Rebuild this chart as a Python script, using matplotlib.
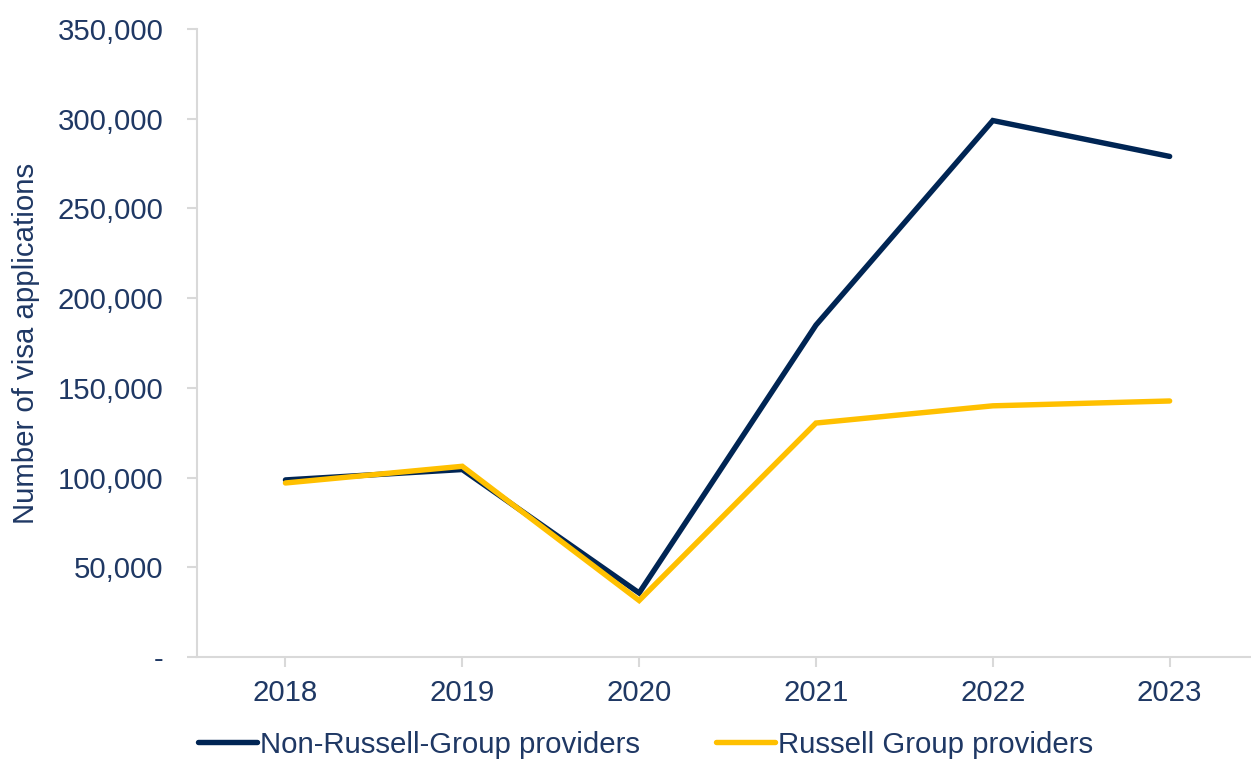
import matplotlib
matplotlib.use("Agg")
import matplotlib.pyplot as plt
from matplotlib.ticker import FuncFormatter

years = ["2018", "2019", "2020", "2021", "2022", "2023"]
non_russell = [98700, 104500, 35700, 185000, 299000, 279000]
russell = [97000, 106300, 31500, 130400, 140000, 142700]
series_labels = ["Non-Russell-Group providers", "Russell Group providers"]

navy = "#002554"
gold = "#FFC000"
text_c = "#1F3864"
grey = "#D9D9D9"

plt.rcParams['font.family'] = ['Liberation Sans', 'DejaVu Sans']
fs = 21.2

fig = plt.figure(figsize=(12.51, 7.6), dpi=100)
ax = fig.add_axes([0.1575, 0.1355, 0.8425, 0.8263])

x = list(range(len(years)))
ax.plot(x, non_russell, color=navy, lw=3.9, solid_capstyle='round', solid_joinstyle='miter', label=series_labels[0], zorder=2)
ax.plot(x, russell, color=gold, lw=3.9, solid_capstyle='round', solid_joinstyle='miter', label=series_labels[1], zorder=3)

ax.set_xlim(-0.5, 5.46)
ax.set_ylim(0, 350000)
ax.set_yticks(range(0, 350001, 50000))
ax.yaxis.set_major_formatter(FuncFormatter(lambda v, p: "-" if v == 0 else f"{int(v):,}"))
ax.set_xticks(x)
ax.set_xticklabels(years)

for s in ["top", "right"]:
    ax.spines[s].set_visible(False)
for s in ["left", "bottom"]:
    ax.spines[s].set_color(grey)
    ax.spines[s].set_linewidth(1.5)

ax.tick_params(axis='both', colors=grey, width=1.5, length=7, labelcolor=text_c, labelsize=fs)
ax.tick_params(axis='y', pad=17)
ax.tick_params(axis='x', pad=9)

ax.set_ylabel("Number of visa applications", color=text_c, fontsize=fs)
ax.yaxis.set_label_coords(-0.149, 0.5)

leg = fig.legend(loc='center', bbox_to_anchor=(0.516, 0.02), ncol=2, frameon=False,
                 fontsize=fs, handlelength=2.0, handletextpad=0.1, columnspacing=2.6)
for t in leg.get_texts():
    t.set_color(text_c)

fig.savefig("out.png", dpi=100)
